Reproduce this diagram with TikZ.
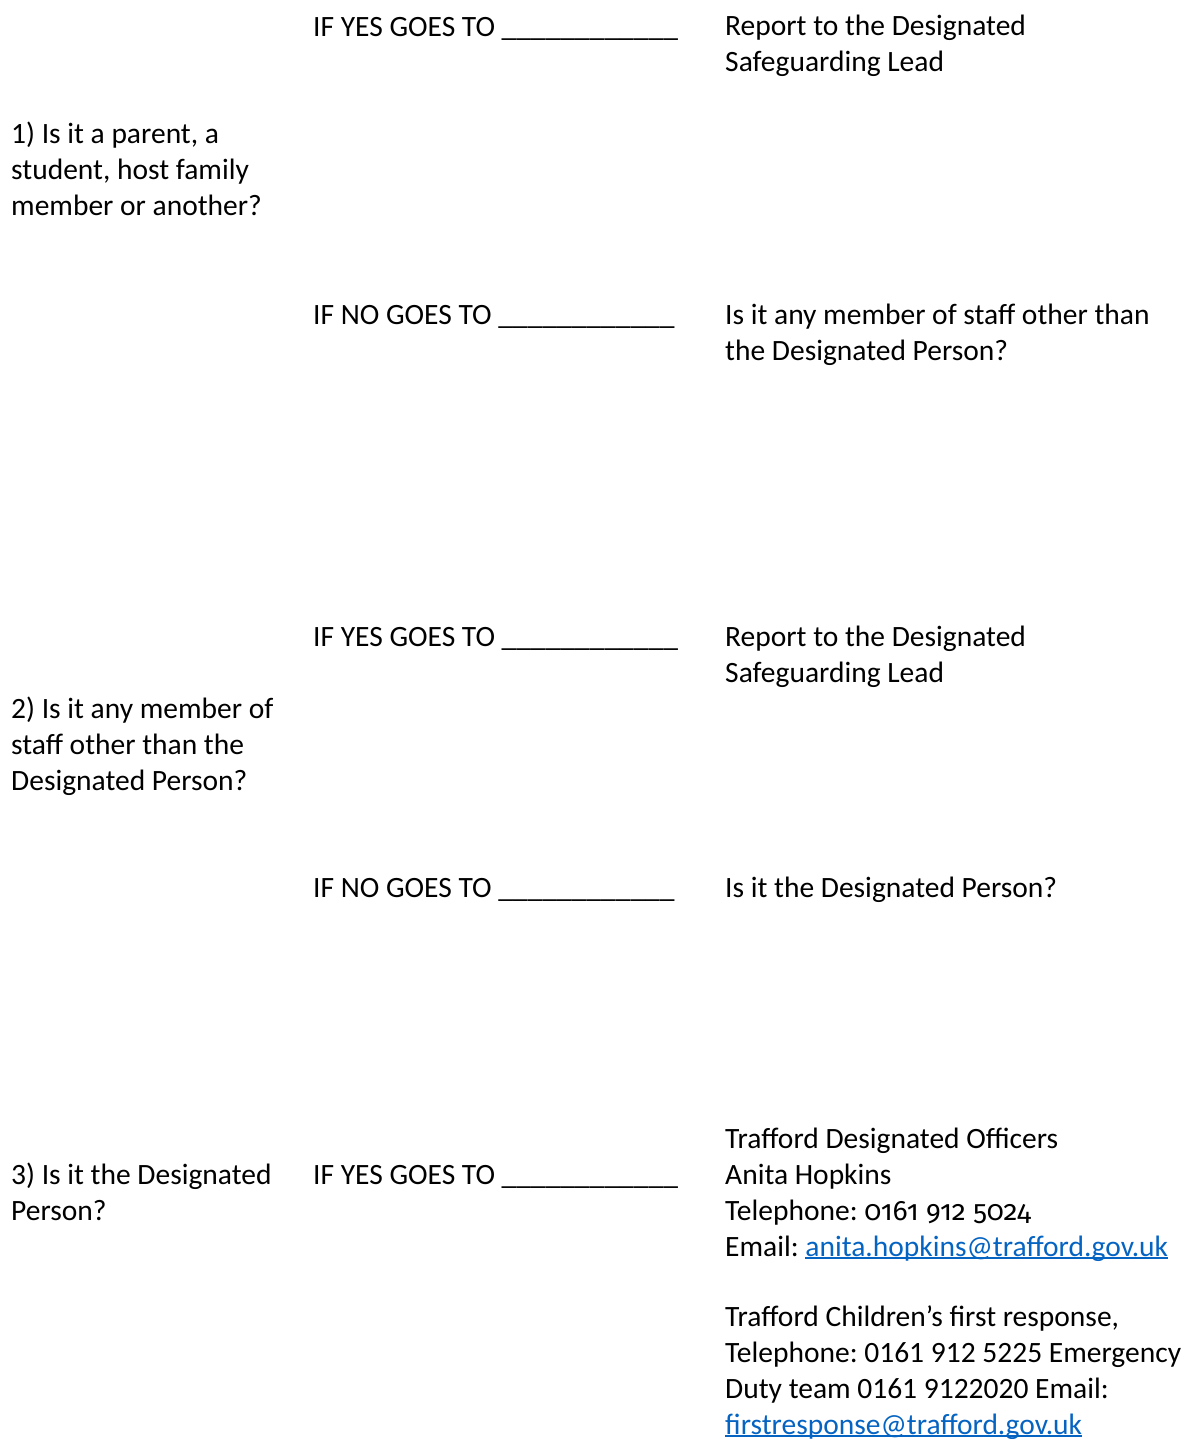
\documentclass[tikz,border=0pt]{standalone}
\usepackage{fontspec}
\setmainfont{Carlito}
\newfontfamily\oldnums[Numbers=OldStyle,Scale=0.95]{Fira Sans}
\usepackage{tikz}
\usetikzlibrary{positioning}
\usepackage{xcolor}
\definecolor{linkblue}{RGB}{5,99,193}

\frenchspacing
\newcommand{\blank}{\_\_\_\_\_\_\_\_\_\_\_\_}
\newsavebox{\linkbox}
\newcommand{\weblink}[1]{\sbox{\linkbox}{\color{linkblue}#1}%
  {\color{linkblue}\rlap{\rule[-3pt]{\wd\linkbox}{1.6pt}}\usebox{\linkbox}}}

\begin{document}
\begin{tikzpicture}[x=1pt, y=-1pt,
    txt/.style={inner sep=0pt, anchor=base west, align=left,
                font=\fontsize{29.5}{36}\selectfont}]

    % page frame, 1188 x 1439
    \useasboundingbox (0,0) rectangle (1188,1439);

    % Question 1 (base anchor sits on the last line)
    \node[txt] (q1) at (11, 216) {1) Is it a parent, a\\student, host family\\member or another?};
    \node[txt] (q1yes) at (313, 37) {IF YES GOES TO \blank};
    \node[txt] (d1yes) at (725, 72) {Report to the Designated\\Safeguarding Lead};
    \node[txt] (q1no) at (313, 324) {IF NO GOES TO \blank};
    \node[txt] (d1no) at (725, 360) {Is it any member of staff other than\\the Designated Person?};

    % Question 2
    \node[txt] (q2) at (11, 790) {2) Is it any member of\\staff other than the\\Designated Person?};
    \node[txt] (q2yes) at (313, 646) {IF YES GOES TO \blank};
    \node[txt] (d2yes) at (725, 682) {Report to the Designated\\Safeguarding Lead};
    \node[txt] (q2no) at (313, 897) {IF NO GOES TO \blank};
    \node[txt] (d2no) at (725, 897) {Is it the Designated Person?};

    % Question 3 and contacts
    \node[txt] (q3) at (11, 1220) {3) Is it the Designated\\Person?};
    \node[txt] (q3yes) at (313, 1184) {IF YES GOES TO \blank};
    \node[txt] (lado) at (725, 1256) {Trafford Designated Officers\\Anita Hopkins\\
        Telephone: {\oldnums 0161 912 5024}\\Email: \weblink{anita.hopkins@trafford.gov.uk}};
    \node[txt] (cfr) at (725, 1434) {Trafford Children’s first response,\\Telephone: 0161 912 5225 Emergency\\
        Duty team 0161 9122020 Email:\\\weblink{firstresponse@trafford.gov.uk}};

\end{tikzpicture}
\end{document}
